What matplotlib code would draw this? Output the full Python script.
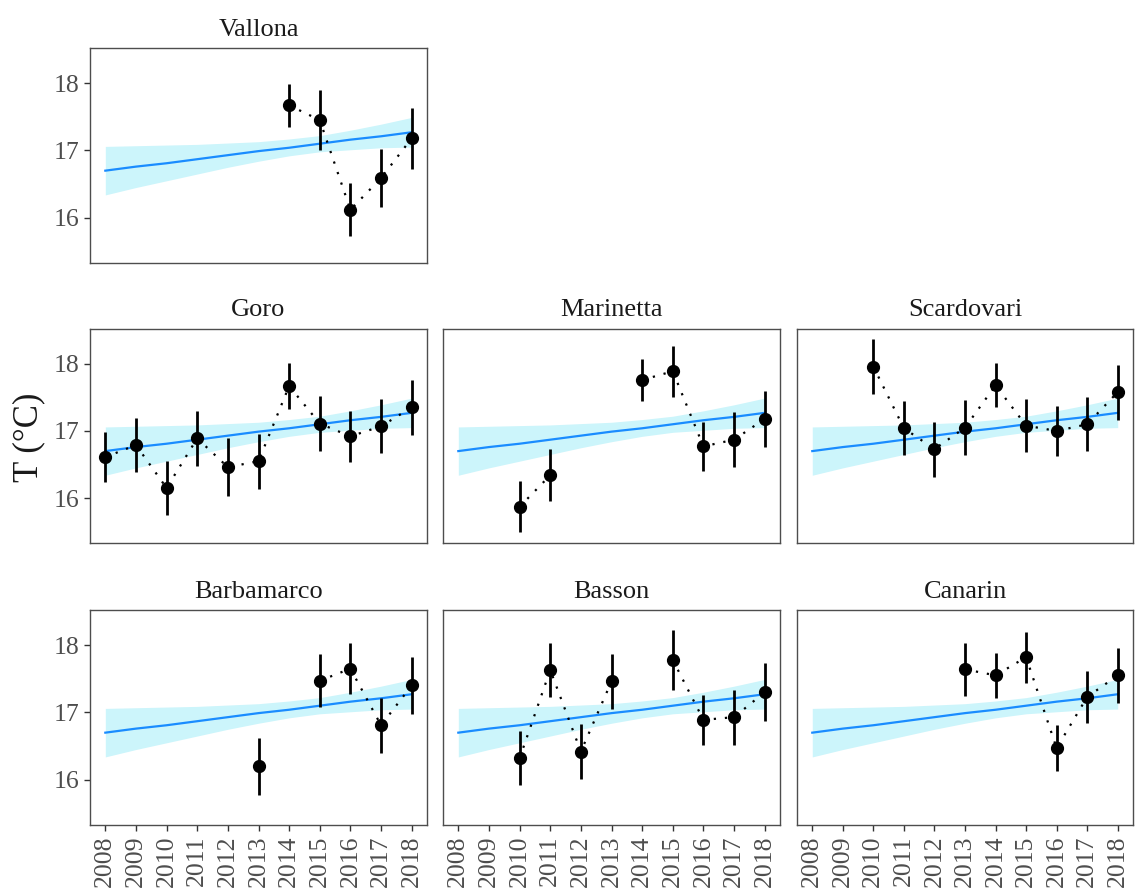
import numpy as np
import matplotlib
matplotlib.use('Agg')
import matplotlib.pyplot as plt

plt.rcParams['font.family'] = ['Liberation Serif', 'DejaVu Serif']

nan = np.nan
years = [2008, 2009, 2010, 2011, 2012, 2013, 2014, 2015, 2016, 2017, 2018]

# common linear trend with its confidence band
fit = [16.70, 16.76, 16.81, 16.87, 16.93, 16.99, 17.04, 17.10, 17.16, 17.21, 17.27]
band_lo = [16.34, 16.45, 16.55, 16.65, 16.75, 16.84, 16.92, 16.98, 17.01, 17.04, 17.05]
band_hi = [17.06, 17.07, 17.08, 17.09, 17.11, 17.13, 17.17, 17.22, 17.30, 17.39, 17.49]

# yearly mean temperature and error half-width per site (nan = no sampling)
vallona = [nan, nan, nan, nan, nan, nan, 17.67, 17.45, 16.12, 16.59, 17.18]
vallona_err = [nan, nan, nan, nan, nan, nan, 0.32, 0.44, 0.39, 0.43, 0.45]
goro = [16.61, 16.79, 16.15, 16.89, 16.46, 16.55, 17.67, 17.11, 16.92, 17.07, 17.35]
goro_err = [0.37, 0.40, 0.40, 0.41, 0.43, 0.41, 0.34, 0.41, 0.38, 0.40, 0.41]
marinetta = [nan, nan, 15.87, 16.34, nan, nan, 17.76, 17.89, 16.77, 16.87, 17.18]
marinetta_err = [nan, nan, 0.38, 0.39, nan, nan, 0.31, 0.38, 0.36, 0.41, 0.42]
scardovari = [nan, nan, 17.96, 17.04, 16.73, 17.05, 17.68, 17.08, 17.00, 17.10, 17.58]
scardovari_err = [nan, nan, 0.41, 0.40, 0.41, 0.41, 0.33, 0.39, 0.37, 0.40, 0.41]
barbamarco = [nan, nan, nan, nan, nan, 16.20, nan, 17.47, 17.65, 16.81, 17.40]
barbamarco_err = [nan, nan, nan, nan, nan, 0.42, nan, 0.39, 0.38, 0.41, 0.42]
basson = [nan, nan, 16.32, 17.63, 16.42, 17.46, nan, 17.78, 16.89, 16.93, 17.30]
basson_err = [nan, nan, 0.40, 0.40, 0.41, 0.41, nan, 0.44, 0.37, 0.41, 0.43]
canarin = [nan, nan, nan, nan, nan, 17.64, 17.55, 17.82, 16.47, 17.23, 17.55]
canarin_err = [nan, nan, nan, nan, nan, 0.39, 0.33, 0.38, 0.34, 0.39, 0.41]

sites = [
    ('Vallona', vallona, vallona_err, 0, 0),
    ('Goro', goro, goro_err, 1, 0),
    ('Marinetta', marinetta, marinetta_err, 1, 1),
    ('Scardovari', scardovari, scardovari_err, 1, 2),
    ('Barbamarco', barbamarco, barbamarco_err, 2, 0),
    ('Basson', basson, basson_err, 2, 1),
    ('Canarin', canarin, canarin_err, 2, 2),
]

W, H = 1141, 894
fig = plt.figure(figsize=(W / 100, H / 100), dpi=100)

col_x = [(90, 427), (443, 780), (797, 1133)]
row_y = [(48, 263), (329, 543), (610, 825)]

for name, mean, err, r, c in sites:
    x0, x1 = col_x[c]
    y0, y1 = row_y[r]
    ax = fig.add_axes([x0 / W, 1 - y1 / H, (x1 - x0) / W, (y1 - y0) / H])

    ax.fill_between(years, band_lo, band_hi, color='#ccf5fb', lw=0, zorder=1)
    ax.plot(years, fit, color='#1a8cff', lw=1.6, zorder=2)

    ax.plot(years, mean, color='black', lw=1.6, ls=(0, (1, 4)), zorder=3)
    ax.errorbar(years, mean, yerr=err, fmt='o', color='black', ms=8.5,
                elinewidth=2.0, capsize=0, zorder=4)

    ax.set_xlim(2007.5, 2018.5)
    ax.set_ylim(15.33, 18.52)
    ax.set_yticks([16, 17, 18])
    ax.set_xticks(years)

    for s in ax.spines.values():
        s.set_color('#4d4d4d')
        s.set_linewidth(1.0)
    ax.tick_params(colors='#333333', labelcolor='#4d4d4d', labelsize=18.5,
                   length=4.5, width=1.0, pad=3)

    if c == 0:
        ax.set_yticklabels(['16', '17', '18'])
    else:
        ax.tick_params(axis='y', left=False, labelleft=False)
    if r == 2:
        ax.set_xticklabels([str(y) for y in years], rotation=90)
    else:
        ax.tick_params(axis='x', bottom=False, labelbottom=False)

    ax.set_title(name, fontsize=19, color='#1a1a1a', pad=9)

fig.text(29 / W, 1 - 437 / H, 'T (°C)', rotation=90, fontsize=25,
         color='#1a1a1a', ha='center', va='center')

fig.savefig('out.png', dpi=100)
